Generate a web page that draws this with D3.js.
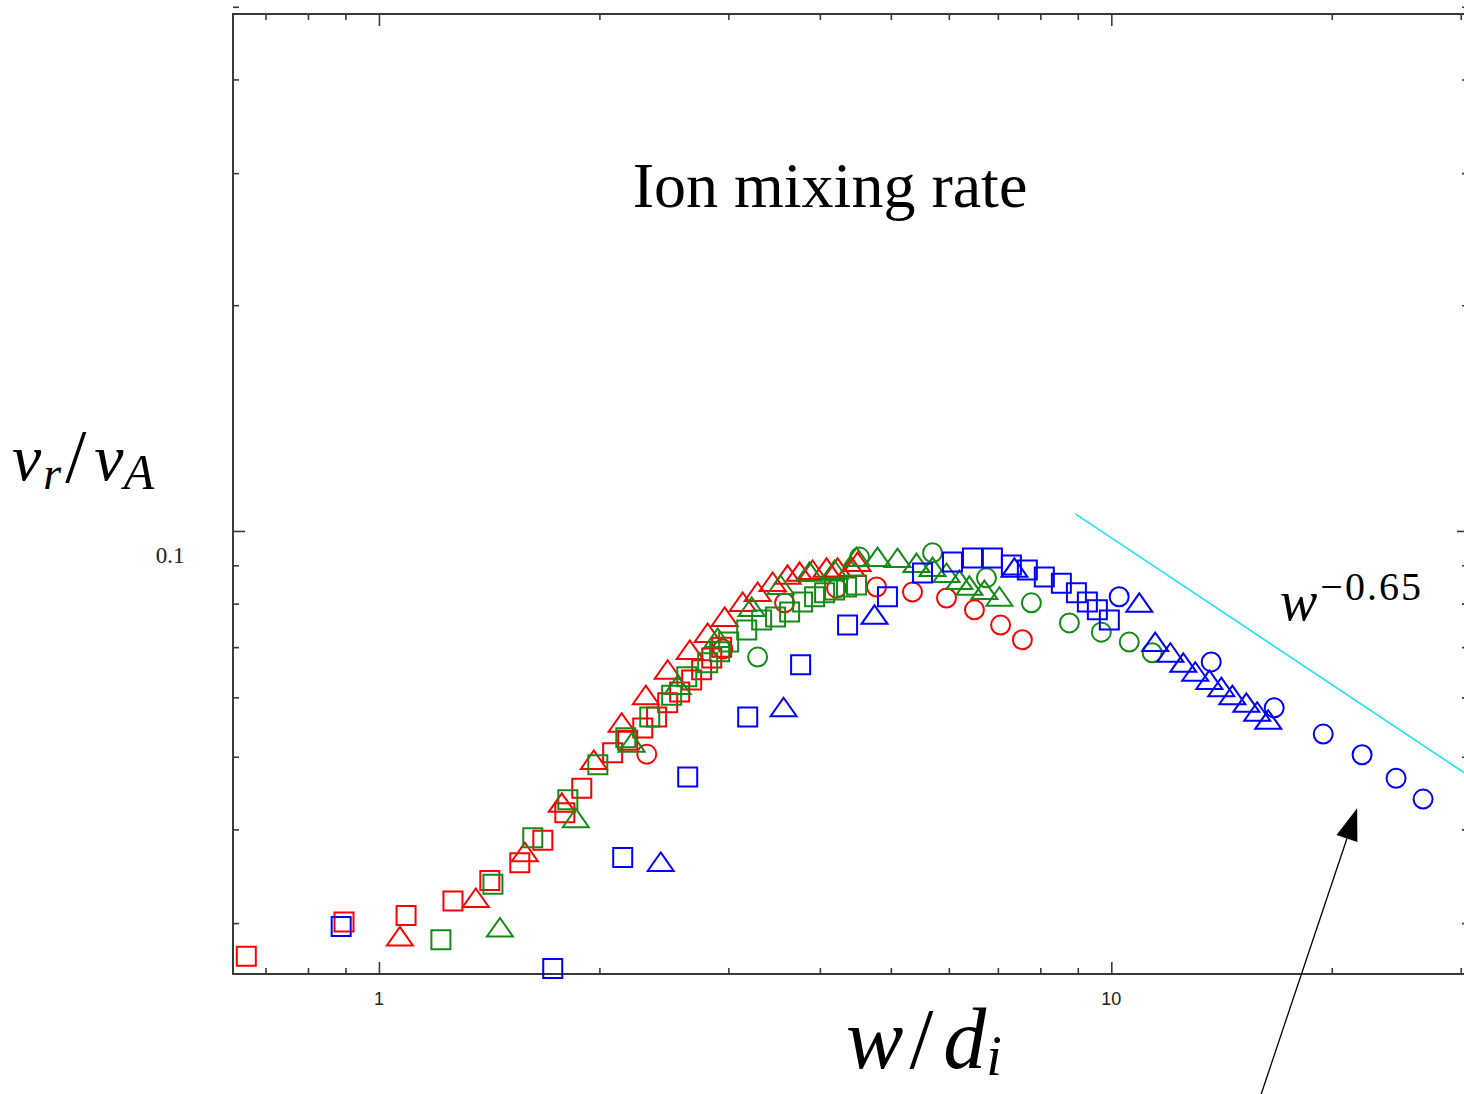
<!DOCTYPE html>
<html>
<head>
<meta charset="utf-8">
<script src="https://cdn.jsdelivr.net/npm/d3@7"></script>
<style>
  body { margin: 0; background: #fff; }
  svg { display: block; }
</style>
</head>
<body>
<svg></svg>
<script>
const svgWidth = 1464;
const svgHeight = 1094;

// data: [w/d_i, v_r/v_A]
const redSquares = [[0.659,0.0271],[0.896,0.0301],[1.089,0.0307],[1.262,0.0321],[1.417,0.0342],
  [1.557,0.0361],[1.674,0.0387],[1.794,0.0421],[1.892,0.0454],[2.085,0.0506],[2.186,0.0526],
  [2.292,0.0546],[2.394,0.0565],[2.479,0.0590],[2.574,0.0610],[2.673,0.0633],[2.758,0.0653],
  [2.847,0.0677],[2.937,0.0700]];
const redTriangles = [[1.068,0.0288],[1.356,0.0324],[1.582,0.0373],[1.777,0.0434],[1.965,0.0495],
  [2.145,0.0555],[2.314,0.0604],[2.479,0.0653],[2.657,0.0694],[2.811,0.0731],[2.965,0.0768],
  [3.138,0.0804],[3.289,0.0829],[3.448,0.0855],[3.614,0.0874],[3.753,0.0882],[3.909,0.0887],
  [4.085,0.0893],[4.229,0.0893],[4.419,0.0895],[4.503,0.0909]];
const redCircles = [[2.321,0.0504],[2.947,0.0696],[3.580,0.0802],[4.215,0.0839],[4.780,0.0842],
  [5.352,0.0829],[5.956,0.0814],[6.503,0.0785],[7.06,0.0749],[7.561,0.0716]];

const greenSquares = [[1.215,0.0285],[1.431,0.0338],[1.622,0.0390],[1.811,0.0438],[1.990,0.0488],
  [2.173,0.0530],[2.343,0.0565],[2.510,0.0604],[2.632,0.0639],[2.811,0.0667],[2.919,0.0690],
  [3.003,0.0711],[3.178,0.0738],[3.331,0.0761],[3.48,0.0768],[3.637,0.0780],[3.788,0.0804],
  [3.934,0.0817],[4.060,0.0827],[4.189,0.0834],[4.350,0.0842],[4.489,0.0847]];
const greenTriangles = [[1.463,0.0296],[1.857,0.0414],[2.214,0.0522],[2.558,0.0623],[2.901,0.0720],
  [3.228,0.0792],[3.535,0.0847],[3.873,0.0882],[4.189,0.0887],[4.489,0.0923],[4.795,0.0923],
  [5.106,0.0920],[5.420,0.0906],[5.700,0.0895],[5.956,0.0879],[6.204,0.0860],[6.40,0.0845],
  [6.710,0.0834],[7.034,0.0817]];
const greenCircles = [[3.289,0.0679],[4.531,0.0923],[5.700,0.0935],[6.753,0.0866],[7.778,0.0802],
  [8.765,0.0754],[9.691,0.0733],[10.58,0.0711],[11.37,0.0688]];

const blueSquares = [[0.888,0.0297],[1.727,0.0261],[2.152,0.0367],[2.640,0.0470],[3.188,0.0565],
  [3.765,0.0663],[4.364,0.0749],[4.947,0.0817],[5.523,0.0879],[6.069,0.0909],[6.463,0.0920],
  [6.881,0.0920],[7.304,0.0901],[7.680,0.0887],[8.101,0.0868],[8.547,0.0852],[8.961,0.0827],
  [9.275,0.0804],[9.571,0.0785],[9.938,0.0761]];
const blueTriangles = [[2.425,0.0362],[3.569,0.0582],[4.750,0.0773],[7.374,0.0893],[10.92,0.0802],
  [11.48,0.0711],[12.04,0.0688],[12.54,0.0667],[13.02,0.0649],[13.61,0.0633],[14.13,0.0619],
  [14.63,0.0604],[15.29,0.0590],[15.82,0.0574],[16.38,0.0560]];
const blueCircles = [[10.25,0.0817],[13.69,0.0669],[16.69,0.0581],[19.47,0.0536],[22.00,0.0503],
  [24.48,0.0468],[26.65,0.0439]];

// power law guide w^-0.65 and the arrow
const fitExponent = -0.65;
const fitCoef = 0.4374;
const fitRange = [8.93, 30.8];
const arrowFrom = [16.02, 0.01775];
const arrowTo = [21.66, 0.0427];

// ticks
const xMajorTicks = [1, 10];
const xMinorTicks = [0.7, 0.8, 0.9, 2, 3, 4, 5, 6, 7, 8, 9, 20, 30];
const yMajorTicks = [0.1];
const yMinorTicks = [0.03, 0.04, 0.05, 0.06, 0.07, 0.08, 0.09, 0.2, 0.3, 0.4, 0.5];

const series = [
  {data: redSquares, color: "#ff0000", shape: "square"},
  {data: redTriangles, color: "#ff0000", shape: "triangle"},
  {data: redCircles, color: "#ff0000", shape: "circle"},
  {data: greenSquares, color: "#168a16", shape: "square"},
  {data: greenTriangles, color: "#168a16", shape: "triangle"},
  {data: greenCircles, color: "#168a16", shape: "circle"},
  {data: blueSquares, color: "#0000ff", shape: "square"},
  {data: blueTriangles, color: "#0000ff", shape: "triangle"},
  {data: blueCircles, color: "#0000ff", shape: "circle"}
];

const svg = d3.select("svg")
    .attr("width", svgWidth)
    .attr("height", svgHeight);

const frame = {left: 233, top: 14, right: 1469, bottom: 974};

const x = d3.scaleLog()
    .domain([0.632, 30.79])
    .range([frame.left, frame.right]);

const y = d3.scaleLog()
    .domain([0.02566, 0.489])
    .range([frame.bottom, frame.top]);

const axisColor = "#3a3a3a";

function drawAxis(axis, tx, ty) {
  const g = svg.append("g")
      .attr("transform", "translate(" + tx + "," + ty + ")")
      .call(axis);
  g.select(".domain").remove();
  g.selectAll("line").attr("stroke", axisColor).attr("stroke-width", 1.6);
  g.selectAll("text").remove();
}

// ticks point inward on all four sides
drawAxis(d3.axisBottom(x).tickValues(xMajorTicks).tickSize(-12), 0, frame.bottom);
drawAxis(d3.axisBottom(x).tickValues(xMinorTicks).tickSize(-6), 0, frame.bottom);
drawAxis(d3.axisTop(x).tickValues(xMajorTicks).tickSize(-12), 0, frame.top);
drawAxis(d3.axisTop(x).tickValues(xMinorTicks).tickSize(-6), 0, frame.top);
drawAxis(d3.axisLeft(y).tickValues(yMajorTicks).tickSize(-12), frame.left, 0);
drawAxis(d3.axisLeft(y).tickValues(yMinorTicks).tickSize(-6), frame.left, 0);
drawAxis(d3.axisRight(y).tickValues(yMajorTicks).tickSize(-12), frame.right, 0);
drawAxis(d3.axisRight(y).tickValues(yMinorTicks).tickSize(-7), frame.right, 0);

svg.append("rect")
    .attr("x", frame.left)
    .attr("y", frame.top)
    .attr("width", frame.right - frame.left)
    .attr("height", frame.bottom - frame.top)
    .attr("fill", "none")
    .attr("stroke", axisColor)
    .attr("stroke-width", 2);

// tick labels
svg.append("g")
    .selectAll("text")
    .data(xMajorTicks)
    .enter().append("text")
    .attr("x", d => x(d))
    .attr("y", frame.bottom + 31)
    .attr("text-anchor", "middle")
    .attr("font-family", "Liberation Sans, Arial, sans-serif")
    .attr("font-size", 18)
    .attr("fill", "#222")
    .text(d => d);

svg.append("g")
    .selectAll("text")
    .data(yMajorTicks)
    .enter().append("text")
    .attr("x", 170)
    .attr("y", d => y(d) + 32)
    .attr("text-anchor", "middle")
    .attr("font-family", "Liberation Serif, Times New Roman, serif")
    .attr("font-size", 23)
    .attr("fill", "#222")
    .text(d => d);

// power law guide
const fitLine = d3.line()
    .x(d => x(d))
    .y(d => y(fitCoef * Math.pow(d, fitExponent)));

svg.append("path")
    .datum(fitRange)
    .attr("d", fitLine)
    .attr("fill", "none")
    .attr("stroke", "#1fe4ee")
    .attr("stroke-width", 1.6);

// markers
function shapePath(shape) {
  if (shape === "square") return "M-9.5,-9.5H9.5V9.5H-9.5Z";
  if (shape === "triangle") return "M0,-9.5L13,9L-13,9Z";
  return "M9.5,0A9.5,9.5 0 1,1 -9.5,0A9.5,9.5 0 1,1 9.5,0Z";
}

series.forEach(s => {
  svg.append("g")
      .selectAll("path")
      .data(s.data)
      .enter().append("path")
      .attr("transform", d => "translate(" + x(d[0]) + "," + y(d[1]) + ")")
      .attr("d", shapePath(s.shape))
      .attr("fill", "none")
      .attr("stroke", s.color)
      .attr("stroke-width", 2);
});

// arrow
const p0 = [x(arrowFrom[0]), y(arrowFrom[1])];
const p1 = [x(arrowTo[0]), y(arrowTo[1])];
const len = Math.hypot(p1[0] - p0[0], p1[1] - p0[1]);
const u = [(p1[0] - p0[0]) / len, (p1[1] - p0[1]) / len];
const n = [-u[1], u[0]];
const headLen = 32, headHalf = 11;
const base = [p1[0] - u[0] * headLen, p1[1] - u[1] * headLen];

svg.append("line")
    .attr("x1", p0[0]).attr("y1", p0[1])
    .attr("x2", base[0]).attr("y2", base[1])
    .attr("stroke", "#000")
    .attr("stroke-width", 1.3);

svg.append("path")
    .attr("d", "M" + p1 + "L" + [base[0] + n[0] * headHalf, base[1] + n[1] * headHalf] +
        "L" + [base[0] - n[0] * headHalf, base[1] - n[1] * headHalf] + "Z")
    .attr("fill", "#000");

// title and labels
svg.append("text")
    .attr("x", 830)
    .attr("y", 207)
    .attr("text-anchor", "middle")
    .attr("font-family", "Liberation Serif, Times New Roman, serif")
    .attr("font-size", 64)
    .attr("fill", "#000")
    .text("Ion mixing rate");

const mathFont = "Liberation Serif, Times New Roman, serif";

const yLabel = svg.append("text")
    .attr("x", 12)
    .attr("y", 480)
    .attr("font-family", mathFont)
    .attr("font-size", 66)
    .attr("font-style", "italic")
    .attr("fill", "#000");
yLabel.append("tspan").text("v");
yLabel.append("tspan").attr("font-size", 46).attr("dy", 9).attr("dx", 2).text("r");
yLabel.append("tspan").attr("font-size", 76).attr("dy", -7).attr("dx", 4).attr("font-style", "normal").text("/");
yLabel.append("tspan").attr("dy", -2).attr("dx", 8).text("v");
yLabel.append("tspan").attr("font-size", 50).attr("dy", 9).attr("dx", 0).text("A");

const xLabel = svg.append("text")
    .attr("x", 846)
    .attr("y", 1068)
    .attr("font-family", mathFont)
    .attr("font-size", 86)
    .attr("font-style", "italic")
    .attr("fill", "#000");
xLabel.append("tspan").text("w");
xLabel.append("tspan").attr("dx", 6).attr("font-style", "normal").text("/");
xLabel.append("tspan").attr("dx", 10).text("d");
xLabel.append("tspan").attr("font-size", 56).attr("dy", 7).attr("dx", 0).text("i");

const fitLabel = svg.append("text")
    .attr("x", 1280)
    .attr("y", 620)
    .attr("font-family", mathFont)
    .attr("font-size", 56)
    .attr("fill", "#000");
fitLabel.append("tspan").attr("font-style", "italic").text("w");
fitLabel.append("tspan").attr("font-size", 40).attr("dy", -20).attr("dx", 3)
    .attr("letter-spacing", 2).text("\u22120.65");
</script>
</body>
</html>
